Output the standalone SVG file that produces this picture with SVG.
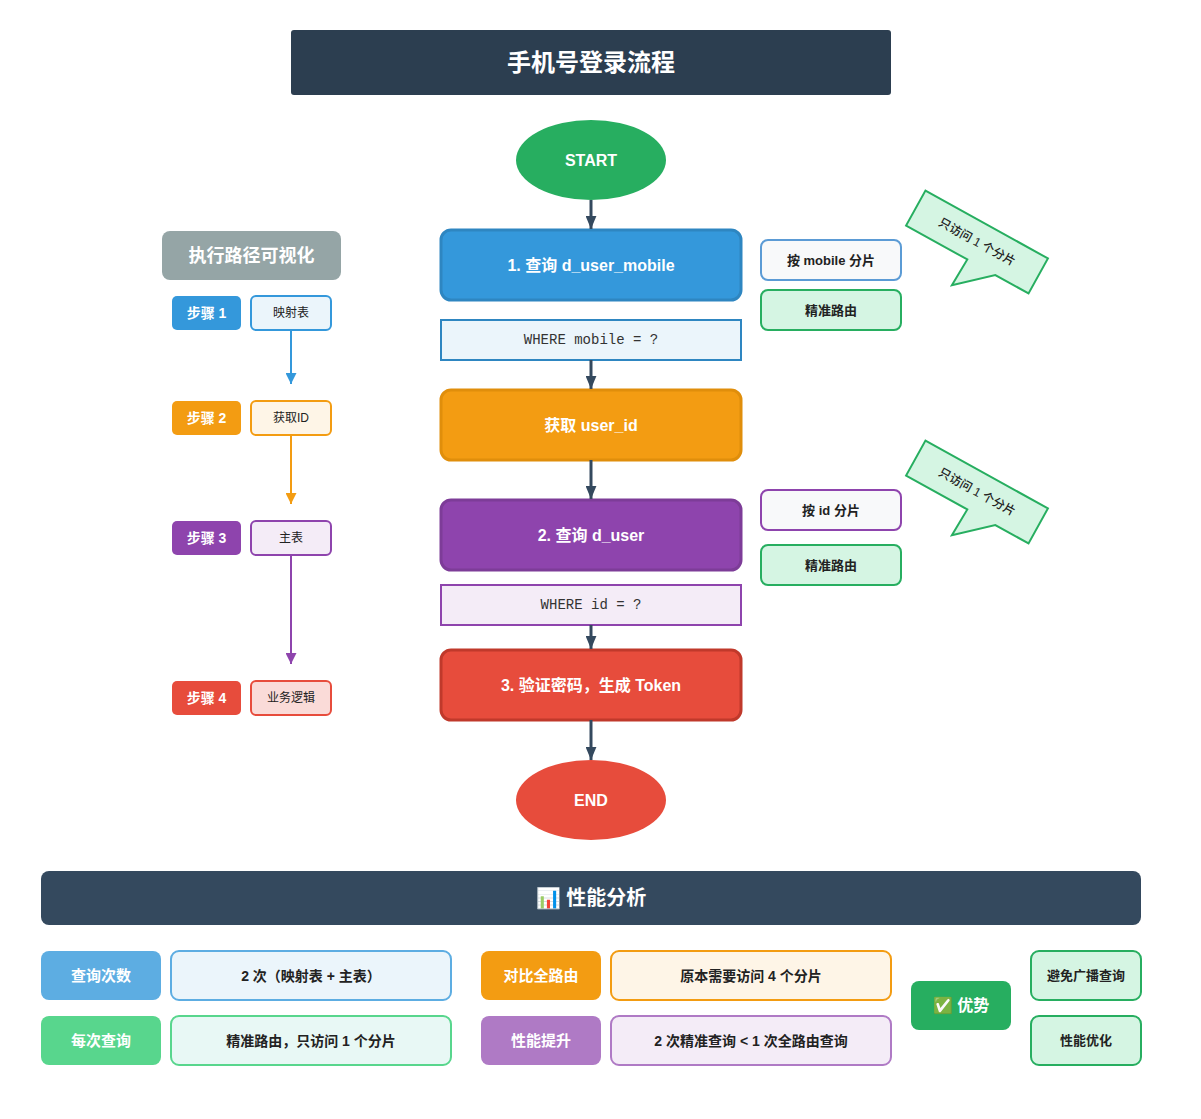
<svg xmlns="http://www.w3.org/2000/svg" width="1201" height="1119" viewBox="0 0 1201 1119">
<defs>
<style>
text{font-family:"Liberation Sans","Noto Sans CJK SC",sans-serif;text-anchor:middle;dominant-baseline:central}
.w{fill:#ffffff;font-weight:bold}
.d{fill:#222222;font-weight:bold}
.n{fill:#222222}
.mono{font-family:"Liberation Mono","Noto Sans CJK SC",monospace;font-size:14px;fill:#333333}
.conn{stroke:#34495e;stroke-width:3;fill:none}
</style>
<marker id="ah" viewBox="0 0 12 10" refX="12" refY="5" markerWidth="13" markerHeight="11" markerUnits="userSpaceOnUse" orient="auto"><path d="M0,0 L12,5 L0,10 z" fill="#34495e"/></marker>
<marker id="ahb" viewBox="0 0 10 10" refX="10" refY="5" markerWidth="11" markerHeight="11" markerUnits="userSpaceOnUse" orient="auto"><path d="M0,0 L10,5 L0,10 z" fill="#3498db"/></marker>
<marker id="aho" viewBox="0 0 10 10" refX="10" refY="5" markerWidth="11" markerHeight="11" markerUnits="userSpaceOnUse" orient="auto"><path d="M0,0 L10,5 L0,10 z" fill="#f39c12"/></marker>
<marker id="ahp" viewBox="0 0 10 10" refX="10" refY="5" markerWidth="11" markerHeight="11" markerUnits="userSpaceOnUse" orient="auto"><path d="M0,0 L10,5 L0,10 z" fill="#8e44ad"/></marker>
<path id="bubble" d="M-70,-20 H70 V20 H32 L-1,50 L0,20 H-70 Z"/>
</defs>
<rect width="1201" height="1119" fill="#ffffff"/>

<g id="title">
<rect x="291" y="30" width="600" height="65" rx="3" fill="#2c3e50"/>
<text x="591" y="62" class="w" font-size="24">手机号登录流程</text>
</g>

<g id="start">
<ellipse cx="591" cy="160" rx="75" ry="40" fill="#27ae60"/>
<text x="591" y="160" class="w" font-size="16">START</text>
</g>

<g id="step1">
<rect x="441" y="230" width="300" height="70" rx="10" fill="#3498db" stroke="#2e86c1" stroke-width="3"/>
<text x="591" y="265" class="w" font-size="16">1. 查询 d_user_mobile</text>
</g>
<g id="where1">
<rect x="441" y="320" width="300" height="40" fill="#ebf5fb" stroke="#2e86c1" stroke-width="2"/>
<text x="591" y="340" class="mono">WHERE mobile = ?</text>
</g>
<g id="getid">
<rect x="441" y="390" width="300" height="70" rx="10" fill="#f39c12" stroke="#e08e0b" stroke-width="3"/>
<text x="591" y="425" class="w" font-size="16">获取 user_id</text>
</g>
<g id="step2">
<rect x="441" y="500" width="300" height="70" rx="10" fill="#8e44ad" stroke="#7d3c98" stroke-width="3"/>
<text x="591" y="535" class="w" font-size="16">2. 查询 d_user</text>
</g>
<g id="where2">
<rect x="441" y="585" width="300" height="40" fill="#f4ecf7" stroke="#8e44ad" stroke-width="2"/>
<text x="591" y="605" class="mono">WHERE id = ?</text>
</g>
<g id="step3">
<rect x="441" y="650" width="300" height="70" rx="10" fill="#e74c3c" stroke="#c0392b" stroke-width="3"/>
<text x="591" y="685" class="w" font-size="16">3. 验证密码，生成 Token</text>
</g>
<g id="end">
<ellipse cx="591" cy="800" rx="75" ry="40" fill="#e74c3c"/>
<text x="591" y="800" class="w" font-size="16">END</text>
</g>

<g id="connectors">
<line class="conn" x1="591" y1="200" x2="591" y2="229" marker-end="url(#ah)"/>
<line class="conn" x1="591" y1="360" x2="591" y2="389" marker-end="url(#ah)"/>
<line class="conn" x1="591" y1="460" x2="591" y2="499" marker-end="url(#ah)"/>
<line class="conn" x1="591" y1="625" x2="591" y2="649" marker-end="url(#ah)"/>
<line class="conn" x1="591" y1="720" x2="591" y2="760" marker-end="url(#ah)"/>
<line x1="291" y1="330" x2="291" y2="384" stroke="#3498db" stroke-width="2" marker-end="url(#ahb)"/>
<line x1="291" y1="435" x2="291" y2="504" stroke="#f39c12" stroke-width="2" marker-end="url(#aho)"/>
<line x1="291" y1="555" x2="291" y2="664" stroke="#8e44ad" stroke-width="2" marker-end="url(#ahp)"/>
</g>

<g id="note-mobile">
<rect x="761" y="240" width="140" height="40" rx="7" fill="#f8f9fa" stroke="#5b9bd5" stroke-width="2"/>
<text x="831" y="260" class="d" font-size="13">按 mobile 分片</text>
</g>
<g id="note-route1">
<rect x="761" y="290" width="140" height="40" rx="7" fill="#d5f5e3" stroke="#27ae60" stroke-width="2"/>
<text x="831" y="310" class="d" font-size="13">精准路由</text>
</g>
<g id="note-id">
<rect x="761" y="490" width="140" height="40" rx="7" fill="#f8f9fa" stroke="#8e44ad" stroke-width="2"/>
<text x="831" y="510" class="d" font-size="13">按 id 分片</text>
</g>
<g id="note-route2">
<rect x="761" y="545" width="140" height="40" rx="7" fill="#d5f5e3" stroke="#27ae60" stroke-width="2"/>
<text x="831" y="565" class="d" font-size="13">精准路由</text>
</g>

<g id="callout1" transform="translate(977,242) rotate(29)">
<use href="#bubble" fill="#d5f5e3" stroke="#27ae60" stroke-width="2"/>
<text x="0" y="0" class="n" font-size="12" font-weight="500">只访问 1 个分片</text>
</g>
<g id="callout2" transform="translate(977,492) rotate(29)">
<use href="#bubble" fill="#d5f5e3" stroke="#27ae60" stroke-width="2"/>
<text x="0" y="0" class="n" font-size="12" font-weight="500">只访问 1 个分片</text>
</g>

<g id="path-header">
<rect x="162" y="231" width="179" height="49" rx="8" fill="#95a5a6"/>
<text x="251.5" y="255.5" class="w" font-size="18">执行路径可视化</text>
</g>
<g id="path1">
<rect x="172" y="296" width="69" height="34" rx="5" fill="#3498db"/>
<text x="206.5" y="313" class="w" font-size="14">步骤 1</text>
<rect x="251" y="296" width="80" height="34" rx="5" fill="#ebf5fb" stroke="#3498db" stroke-width="2"/>
<text x="291" y="313" class="n" font-size="12">映射表</text>
</g>
<g id="path2">
<rect x="172" y="401" width="69" height="34" rx="5" fill="#f39c12"/>
<text x="206.5" y="418" class="w" font-size="14">步骤 2</text>
<rect x="251" y="401" width="80" height="34" rx="5" fill="#fef5e7" stroke="#f39c12" stroke-width="2"/>
<text x="291" y="418" class="n" font-size="12">获取ID</text>
</g>
<g id="path3">
<rect x="172" y="521" width="69" height="34" rx="5" fill="#8e44ad"/>
<text x="206.5" y="538" class="w" font-size="14">步骤 3</text>
<rect x="251" y="521" width="80" height="34" rx="5" fill="#f4ecf7" stroke="#8e44ad" stroke-width="2"/>
<text x="291" y="538" class="n" font-size="12">主表</text>
</g>
<g id="path4">
<rect x="172" y="681" width="69" height="34" rx="5" fill="#e74c3c"/>
<text x="206.5" y="698" class="w" font-size="14">步骤 4</text>
<rect x="251" y="681" width="80" height="34" rx="5" fill="#fadbd8" stroke="#e74c3c" stroke-width="2"/>
<text x="291" y="698" class="n" font-size="12">业务逻辑</text>
</g>

<g id="perf-header">
<rect x="41" y="871" width="1100" height="54" rx="8" fill="#34495e"/>
<text x="591" y="898" class="w" font-size="20">📊 性能分析</text>
</g>
<g id="perf-count">
<rect x="41" y="951" width="120" height="49" rx="8" fill="#5dade2"/>
<text x="101" y="975.5" class="w" font-size="15">查询次数</text>
<rect x="171" y="951" width="280" height="49" rx="8" fill="#ebf5fb" stroke="#5dade2" stroke-width="2"/>
<text x="311" y="975.5" class="d" font-size="14">2 次（映射表 + 主表）</text>
</g>
<g id="perf-each">
<rect x="41" y="1016" width="120" height="49" rx="8" fill="#58d68d"/>
<text x="101" y="1040.5" class="w" font-size="15">每次查询</text>
<rect x="171" y="1016" width="280" height="49" rx="8" fill="#e8f8f5" stroke="#58d68d" stroke-width="2"/>
<text x="311" y="1040.5" class="d" font-size="14">精准路由，只访问 1 个分片</text>
</g>
<g id="perf-compare">
<rect x="481" y="951" width="120" height="49" rx="8" fill="#f39c12"/>
<text x="541" y="975.5" class="w" font-size="15">对比全路由</text>
<rect x="611" y="951" width="280" height="49" rx="8" fill="#fef5e7" stroke="#f39c12" stroke-width="2"/>
<text x="751" y="975.5" class="d" font-size="14">原本需要访问 4 个分片</text>
</g>
<g id="perf-gain">
<rect x="481" y="1016" width="120" height="49" rx="8" fill="#af7ac5"/>
<text x="541" y="1040.5" class="w" font-size="15">性能提升</text>
<rect x="611" y="1016" width="280" height="49" rx="8" fill="#f4ecf7" stroke="#af7ac5" stroke-width="2"/>
<text x="751" y="1040.5" class="d" font-size="14">2 次精准查询 &lt; 1 次全路由查询</text>
</g>
<g id="advantage">
<rect x="911" y="981" width="100" height="49" rx="8" fill="#27ae60"/>
<text x="961" y="1005.5" class="w" font-size="16">✅ 优势</text>
</g>
<g id="adv1">
<rect x="1031" y="951" width="110" height="49" rx="8" fill="#d5f5e3" stroke="#27ae60" stroke-width="2"/>
<text x="1086" y="975.5" class="d" font-size="13">避免广播查询</text>
</g>
<g id="adv2">
<rect x="1031" y="1016" width="110" height="49" rx="8" fill="#d5f5e3" stroke="#27ae60" stroke-width="2"/>
<text x="1086" y="1040.5" class="d" font-size="13">性能优化</text>
</g>
</svg>
